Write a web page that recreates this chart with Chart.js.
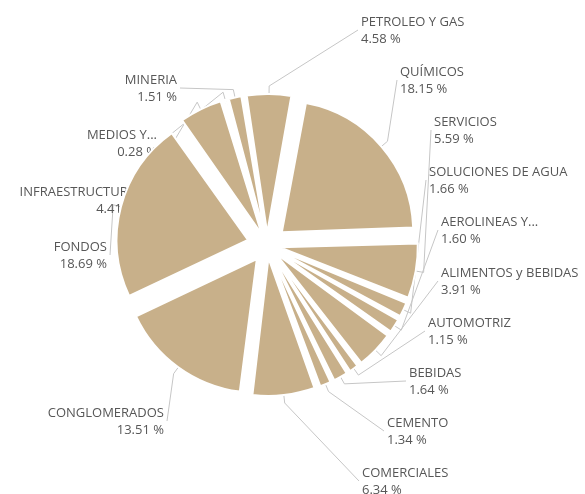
<!DOCTYPE html>
<html>
<head>
<meta charset="utf-8">
<script src="https://cdn.jsdelivr.net/npm/chart.js@4.4.1/dist/chart.umd.min.js"></script>
<style>
  html, body { margin: 0; padding: 0; background: #fff; }
  #wrap { width: 585px; height: 494px; }
</style>
</head>
<body>
<div id="wrap"><canvas id="sectorChart"></canvas></div>
<script>
// Sector shares (%), clockwise from the top
const sectors = ['PETROLEO Y GAS', 'QUÍMICOS', 'SERVICIOS', 'SOLUCIONES DE AGUA', 'AEROLINEAS Y...',
  'ALIMENTOS y BEBIDAS', 'AUTOMOTRIZ', 'BEBIDAS', 'CEMENTO', 'COMERCIALES',
  'CONGLOMERADOS', 'FONDOS', 'INFRAESTRUCTURA', 'MEDIOS Y...', 'MINERIA'];
const shares = [4.58, 18.15, 5.59, 1.66, 1.60,
  3.91, 1.15, 1.64, 1.34, 6.34,
  13.51, 18.69, 4.41, 0.28, 1.51];

// Where each outside label sits: [x, y of first line, text alignment]
const labelSpots = [
  [361, 22, 'left'], [400, 72, 'left'], [434, 122, 'left'], [429, 172, 'left'], [441, 222, 'left'],
  [441, 273, 'left'], [428, 323, 'left'], [409, 373, 'left'], [387, 423, 'left'], [362, 473, 'left'],
  [164, 413, 'right'], [107, 247, 'right'], [136, 192, 'right'], [157, 135, 'right'], [177, 80, 'right']
];

const SLICE_COLOR = '#c8b08a';
const LINE_COLOR = '#c6c6c6';
const TEXT_COLOR = '#575757';
const EXPLODE = 20; // how far each slice's rim sits beyond the base radius

const total = shares.reduce((a, b) => a + b, 0);

// Chart.js pushes thin arcs further out than wide ones; compensate so every
// slice ends up with roughly the same rim distance
function sliceFix(sweep) {
  return 1 - Math.sin(Math.min(Math.PI, sweep));
}
function sliceOffset(c) {
  const sweep = c.raw / total * 2 * Math.PI;
  return 4 * EXPLODE / (1 + sliceFix(sweep));
}

// Labels and leader lines go underneath the slices
const outsideLabels = {
  id: 'outsideLabels',
  beforeDatasetsDraw(chart) {
    const ctx = chart.ctx;
    const arcs = chart.getDatasetMeta(0).data;
    ctx.save();
    ctx.font = '13px "Open Sans"';
    ctx.textBaseline = 'middle';
    arcs.forEach((arc, i) => {
      const spot = labelSpots[i];
      if (!spot) return;
      const { x, y, startAngle, endAngle, outerRadius, circumference } =
        arc.getProps(['x', 'y', 'startAngle', 'endAngle', 'outerRadius', 'circumference'], true);
      const shift = arc.options.offset / 4;
      const rim = outerRadius + shift * (1 + sliceFix(circumference));
      const mid = (startAngle + endAngle) / 2;
      const cos = Math.cos(mid);
      const sin = Math.sin(mid);
      const [lx, ly, align] = spot;
      const ax = align === 'left' ? lx - 3 : lx + 3;
      const ay = ly + 8;

      ctx.strokeStyle = LINE_COLOR;
      ctx.lineWidth = 1;
      ctx.beginPath();
      ctx.moveTo(x + cos * (rim - 6), y + sin * (rim - 6));
      ctx.lineTo(x + cos * (rim + 8), y + sin * (rim + 8));
      ctx.lineTo(ax, ay);
      ctx.stroke();

      ctx.fillStyle = TEXT_COLOR;
      ctx.textAlign = align;
      ctx.fillText(sectors[i], lx, ly);
      ctx.fillText(shares[i].toFixed(2) + ' %', lx, ly + 17);
    });
    ctx.restore();
  }
};

const ctx = document.getElementById('sectorChart').getContext('2d');
new Chart(ctx, {
  type: 'pie',
  data: {
    labels: sectors,
    datasets: [{
      data: shares,
      backgroundColor: SLICE_COLOR,
      borderColor: '#ffffff',
      borderWidth: 2,
      borderJoinStyle: 'miter',
      offset: sliceOffset,
      radius: 131
    }]
  },
  options: {
    responsive: true,
    maintainAspectRatio: false,
    animation: false,
    rotation: -9,
    layout: {
      padding: { left: 100, right: 151, top: 94, bottom: 98 }
    },
    plugins: {
      legend: { display: false },
      tooltip: { enabled: false }
    }
  },
  plugins: [outsideLabels]
});
</script>
</body>
</html>
